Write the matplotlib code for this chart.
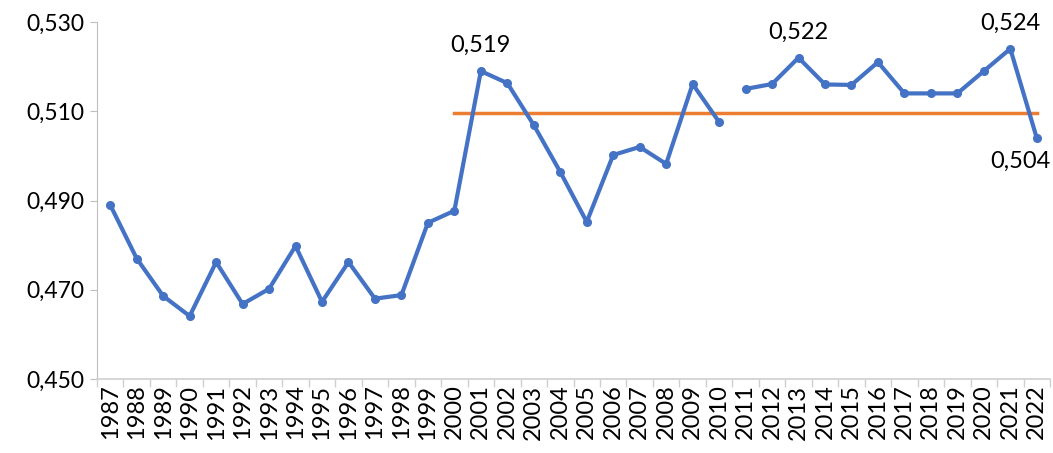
import matplotlib
matplotlib.use("Agg")
import matplotlib.pyplot as plt
import numpy as np
from matplotlib.ticker import FuncFormatter, FixedLocator

plt.rcParams['font.family'] = ['Lato', 'DejaVu Sans']

years = [str(y) for y in range(1987, 2023)]
values_a = [0.489, 0.477, 0.4686, 0.4641, 0.4762, 0.4668, 0.4702, 0.4798, 0.4673,
            0.4762, 0.4680, 0.4688, 0.4850, 0.4877, 0.519, 0.5163, 0.5069, 0.4964,
            0.4852, 0.5002, 0.5020, 0.4982, 0.5161, 0.5076]
values_b = [0.515, 0.5161, 0.522, 0.516, 0.5159, 0.521, 0.514, 0.514, 0.514,
            0.519, 0.524, 0.504]
mean_value = 0.5095
mean_start, mean_end = "2000", "2022"
labels = {"2001": "0,519", "2013": "0,522", "2021": "0,524", "2022": "0,504"}

fig = plt.figure(figsize=(10.53, 4.53), dpi=100)
ax = fig.add_axes([97/1053, 1-379/453, (1050-97)/1053, (379-22)/453])

blue = "#4472C4"
orange = "#ED7D31"
x_a = np.arange(len(values_a))
x_b = np.arange(len(values_a), len(values_a) + len(values_b))
ax.plot(x_a, values_a, color=blue, lw=3, marker='o', ms=5.5, zorder=3)
ax.plot(x_b, values_b, color=blue, lw=3, marker='o', ms=5.5, zorder=3)
i0, i1 = years.index(mean_start), years.index(mean_end)
ax.plot([i0, i1], [mean_value, mean_value], color=orange, lw=2.5, zorder=2)

allvals = values_a + values_b
for yr, txt in labels.items():
    i = years.index(yr)
    v = allvals[i]
    if yr == "2022":
        ax.annotate(txt, (i, v), xytext=(-12, -9), textcoords='offset points',
                    ha='center', va='top', fontsize=17)
    else:
        ax.annotate(txt, (i, v), xytext=(0, 11), textcoords='offset points',
                    ha='center', va='bottom', fontsize=17)

ax.set_xlim(-0.5, len(years) - 0.5)
ax.set_ylim(0.450, 0.530)
ax.set_yticks([0.450, 0.470, 0.490, 0.510, 0.530])
ax.yaxis.set_major_formatter(FuncFormatter(lambda v, p: f"{v:.3f}".replace('.', ',')))
ax.set_xticks(np.arange(len(years)))
ax.set_xticklabels(years, rotation=90, fontsize=17)
ax.xaxis.set_minor_locator(FixedLocator(np.arange(len(years) + 1) - 0.5))
ax.tick_params(axis='x', which='major', length=0, pad=4)
ax.tick_params(axis='x', which='minor', length=6, color='#D0D0D0', width=1)
ax.tick_params(axis='y', labelsize=16.5, length=5, color='#BFBFBF', pad=4)
for s in ['top', 'right']:
    ax.spines[s].set_visible(False)
ax.spines['left'].set_color('#BFBFBF')
ax.spines['bottom'].set_color('#D0D0D0')
ax.spines['bottom'].set_linewidth(1.2)

fig.savefig("out.png", dpi=100)
